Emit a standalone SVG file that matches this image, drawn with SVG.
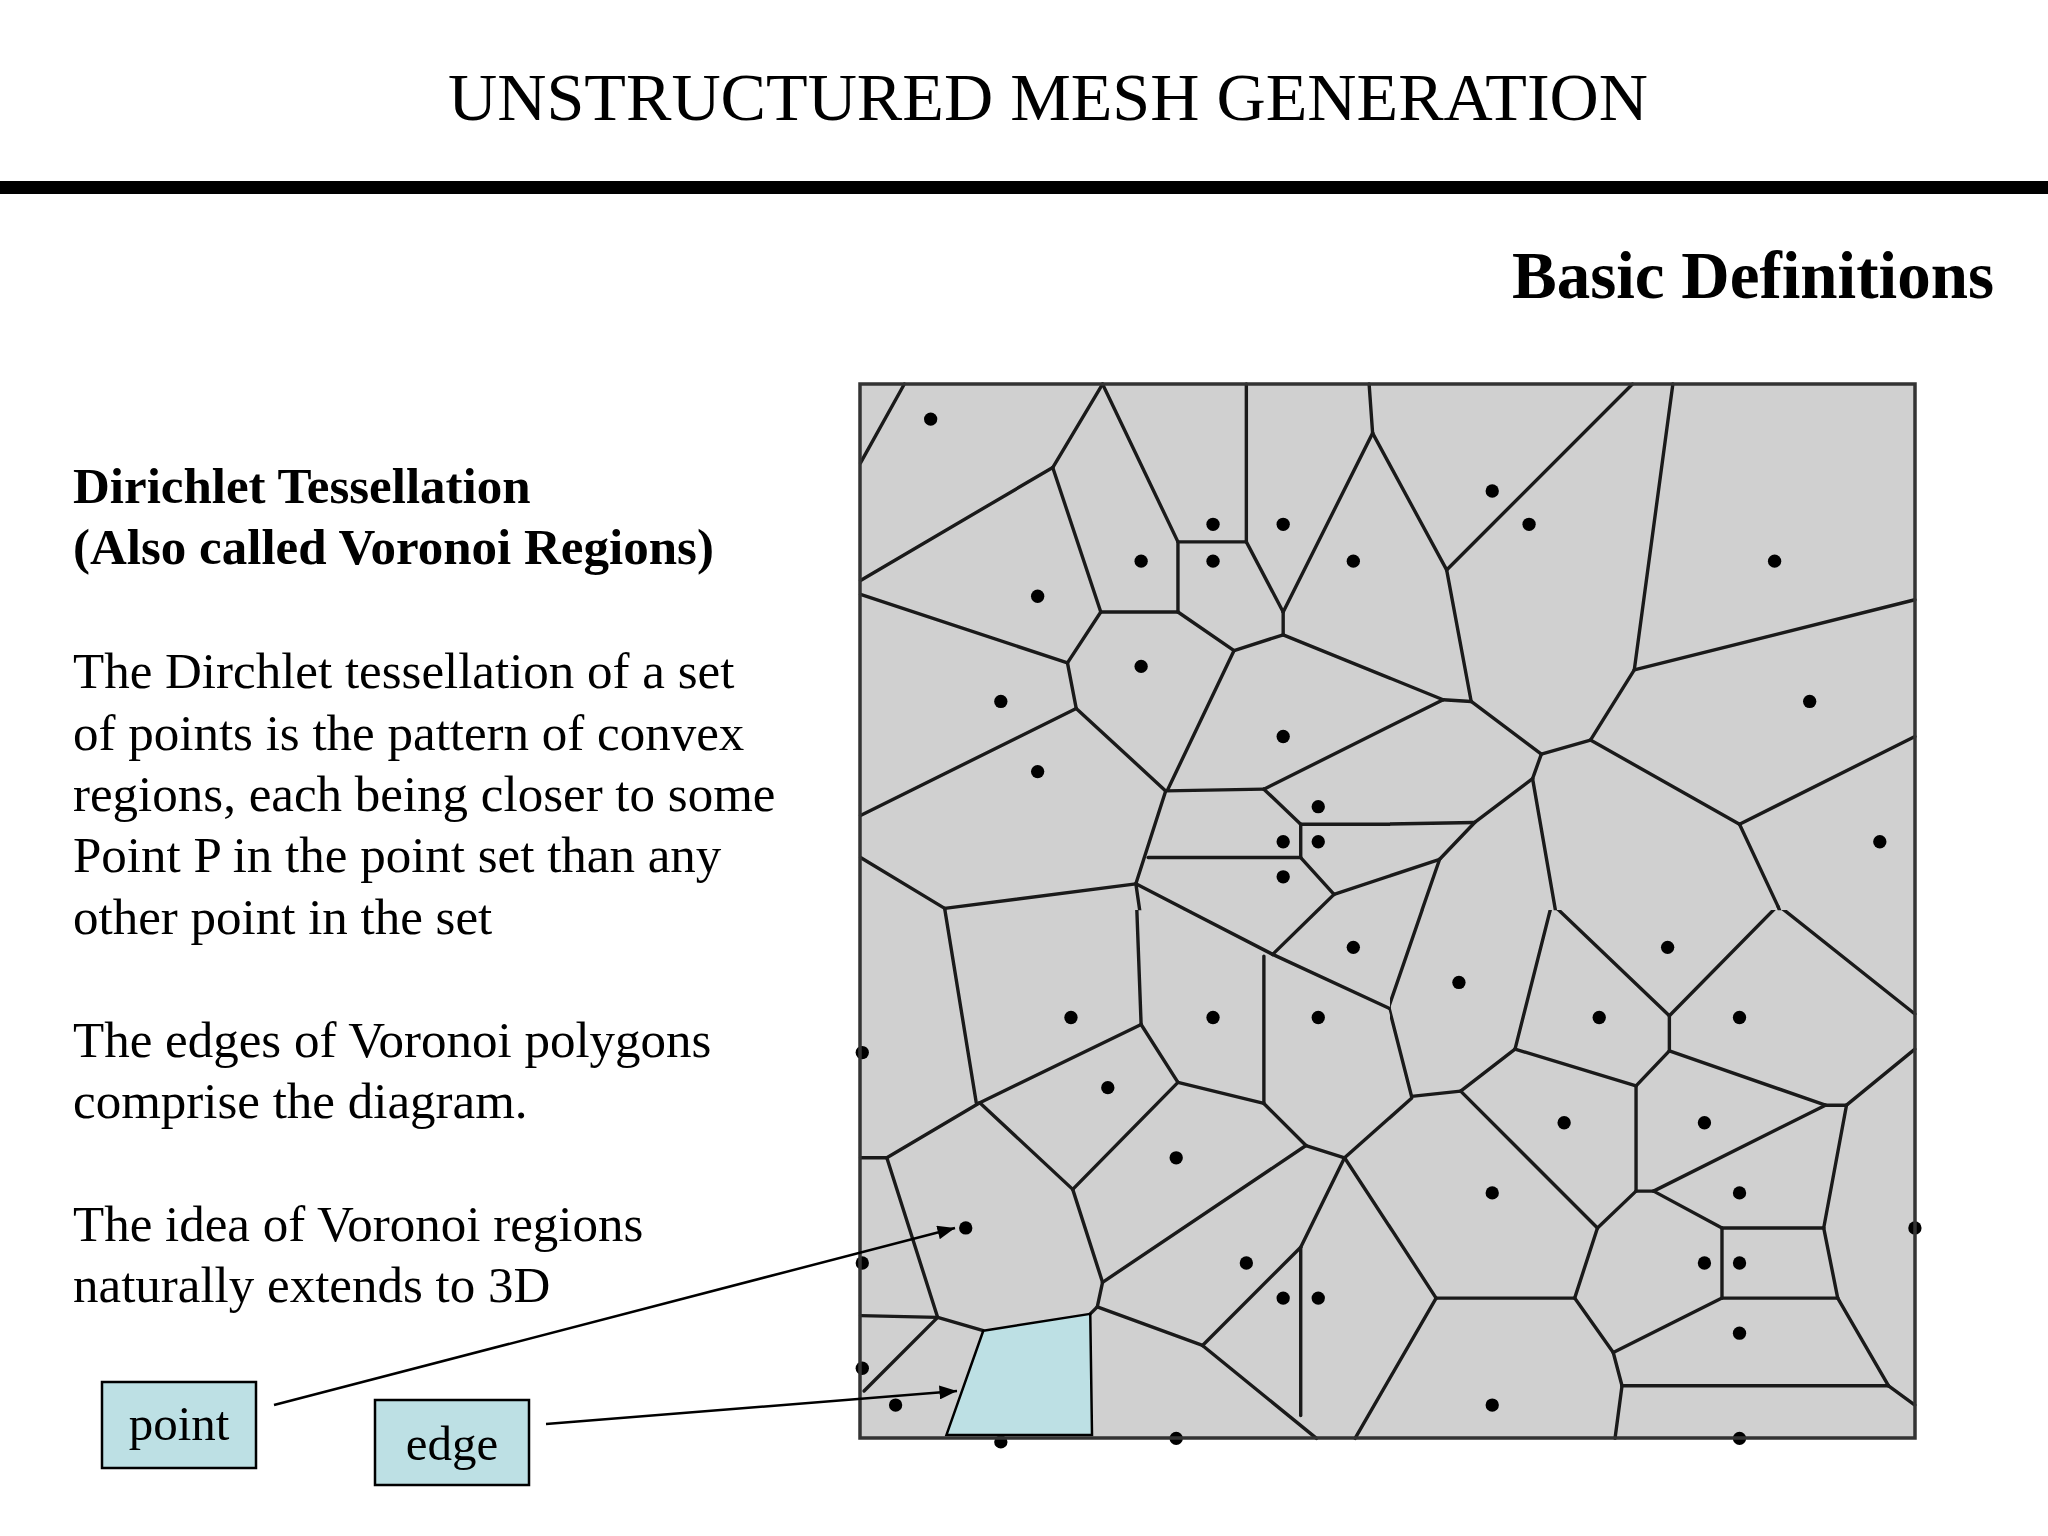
<svg xmlns="http://www.w3.org/2000/svg" width="2048" height="1536" viewBox="0 0 2048 1536">
<style>
.t{font-family:"Liberation Serif","Times New Roman",serif;fill:#000}
.e line{stroke:#1a1a1a;stroke-width:3.4;vector-effect:non-scaling-stroke;stroke-linecap:round}
.d circle{fill:#000;r:19px}
</style>
<defs>
<marker id="a2" viewBox="0 0 10 8" refX="10" refY="4" markerWidth="18" markerHeight="14" orient="auto" markerUnits="userSpaceOnUse"><path d="M0,0 L10,4 L0,8 Z" fill="#000"/></marker>
<clipPath id="c1" clipPathUnits="userSpaceOnUse"><rect x="-100" y="-100" width="1640" height="1640"/></clipPath>
<clipPath id="c2" clipPathUnits="userSpaceOnUse"><rect x="28.5" y="-100" width="1700" height="1640"/></clipPath>
<clipPath id="c3" clipPathUnits="userSpaceOnUse"><rect x="-100" y="28.5" width="1640" height="1700"/></clipPath>
<clipPath id="c4" clipPathUnits="userSpaceOnUse"><rect x="28.5" y="28.5" width="1700" height="1700"/></clipPath>
</defs>
<rect width="2048" height="1536" fill="#fff"/>
<text class="t" x="1048" y="120" font-size="68" text-anchor="middle" textLength="1200" lengthAdjust="spacingAndGlyphs">UNSTRUCTURED MESH GENERATION</text>
<rect x="0" y="181" width="2048" height="13" fill="#000"/>
<text class="t" x="1994" y="298" font-size="67" font-weight="bold" text-anchor="end">Basic Definitions</text>
<g class="t" font-size="51">
<text x="73" y="503" font-weight="bold">Dirichlet Tessellation</text>
<text x="73" y="564" font-weight="bold">(Also called Voronoi  Regions)</text>
<text x="73" y="688">The Dirchlet tessellation of a set</text>
<text x="73" y="750">of points is the pattern of convex</text>
<text x="73" y="811">regions, each being closer to some</text>
<text x="73" y="872">Point P in the point set than any</text>
<text x="73" y="934">other point in the set</text>
<text x="73" y="1057">The edges of Voronoi polygons</text>
<text x="73" y="1118">comprise the diagram.</text>
<text x="73" y="1241">The idea of Voronoi regions</text>
<text x="73" y="1302">naturally extends to 3D</text>
</g>
<rect x="860" y="384" width="1055" height="1054" fill="#d0d0d0"/>
<g id="q1" transform="translate(850,370) scale(0.35075)" clip-path="url(#c1)">
<g class="e">
<line x1="155" y1="40" x2="30" y2="265"/><line x1="720" y1="40" x2="578" y2="278"/><line x1="578" y1="278" x2="30" y2="600"/><line x1="578" y1="278" x2="715" y2="690"/><line x1="720" y1="40" x2="935" y2="490"/><line x1="1130" y1="40" x2="1130" y2="490"/><line x1="935" y1="490" x2="1130" y2="490"/><line x1="935" y1="490" x2="935" y2="690"/><line x1="715" y1="690" x2="935" y2="690"/><line x1="1130" y1="490" x2="1235" y2="690"/><line x1="1235" y1="690" x2="1490" y2="180"/><line x1="1490" y1="180" x2="1480" y2="40"/><line x1="1490" y1="180" x2="1701" y2="570"/><line x1="1235" y1="690" x2="1235" y2="755"/><line x1="1235" y1="755" x2="1095" y2="800"/><line x1="935" y1="690" x2="1095" y2="800"/><line x1="715" y1="690" x2="620" y2="835"/><line x1="620" y1="835" x2="30" y2="640"/><line x1="620" y1="835" x2="645" y2="965"/><line x1="645" y1="965" x2="30" y2="1270"/><line x1="645" y1="965" x2="900" y2="1200"/><line x1="1095" y1="800" x2="905" y2="1198"/><line x1="1235" y1="755" x2="1691" y2="940"/><line x1="900" y1="1200" x2="1180" y2="1195"/><line x1="1180" y1="1195" x2="1691" y2="940"/><line x1="1180" y1="1195" x2="1285" y2="1295"/><line x1="1285" y1="1295" x2="1568" y2="1295"/><line x1="1285" y1="1295" x2="1285" y2="1390"/><line x1="850" y1="1390" x2="1285" y2="1390"/><line x1="1285" y1="1390" x2="1380" y2="1495"/><line x1="1380" y1="1495" x2="1682" y2="1395"/><line x1="1380" y1="1495" x2="1205" y2="1666"/><line x1="900" y1="1200" x2="815" y2="1465"/><line x1="815" y1="1465" x2="270" y2="1535"/><line x1="270" y1="1535" x2="30" y2="1390"/><line x1="815" y1="1465" x2="830" y2="1568"/><line x1="815" y1="1465" x2="1205" y2="1666"/><line x1="270" y1="1535" x2="276" y2="1568"/>
</g>
<g class="d"><circle cx="230" cy="140"/><circle cx="1035" cy="440"/><circle cx="1235" cy="440"/><circle cx="830" cy="545"/><circle cx="1035" cy="545"/><circle cx="1435" cy="545"/><circle cx="535" cy="645"/><circle cx="830" cy="845"/><circle cx="430" cy="945"/><circle cx="1235" cy="1045"/><circle cx="535" cy="1145"/><circle cx="1335" cy="1245"/><circle cx="1235" cy="1345"/><circle cx="1335" cy="1345"/><circle cx="1235" cy="1445"/></g>
</g>
<g id="q2" transform="translate(1380,370) scale(0.35075)" clip-path="url(#c2)">
<g class="e">
<line x1="720" y1="40" x2="190" y2="570"/><line x1="-21" y1="180" x2="190" y2="570"/><line x1="190" y1="570" x2="260" y2="945"/><line x1="-276" y1="755" x2="180" y2="940"/><line x1="180" y1="940" x2="260" y2="945"/><line x1="-332" y1="1195" x2="180" y2="940"/><line x1="260" y1="945" x2="460" y2="1095"/><line x1="460" y1="1095" x2="600" y2="1055"/><line x1="835" y1="40" x2="725" y2="855"/><line x1="725" y1="855" x2="600" y2="1055"/><line x1="725" y1="855" x2="1525" y2="655"/><line x1="600" y1="1055" x2="1025" y2="1295"/><line x1="1025" y1="1295" x2="1525" y2="1045"/><line x1="1025" y1="1295" x2="1135" y2="1530"/><line x1="1135" y1="1530" x2="1150" y2="1568"/><line x1="460" y1="1095" x2="435" y2="1165"/><line x1="435" y1="1165" x2="505" y2="1568"/><line x1="435" y1="1165" x2="270" y2="1290"/><line x1="0" y1="1295" x2="270" y2="1290"/><line x1="270" y1="1290" x2="170" y2="1395"/><line x1="-131" y1="1495" x2="170" y2="1395"/><line x1="170" y1="1395" x2="110" y2="1568"/>
</g>
<g class="d"><circle cx="320" cy="345"/><circle cx="425" cy="440"/><circle cx="1125" cy="545"/><circle cx="1225" cy="945"/><circle cx="1425" cy="1345"/></g>
</g>
<g id="q3" transform="translate(850,900) scale(0.35075)" clip-path="url(#c3)">
<g class="e">
<line x1="270" y1="25" x2="360" y2="578"/><line x1="815" y1="-46" x2="830" y2="355"/><line x1="815" y1="-46" x2="1205" y2="155"/><line x1="1205" y1="155" x2="1380" y2="-16"/><line x1="1205" y1="155" x2="1540" y2="310"/><line x1="1540" y1="310" x2="1568" y2="300"/><line x1="1540" y1="310" x2="1568" y2="420"/><line x1="1180" y1="160" x2="1180" y2="580"/><line x1="830" y1="355" x2="370" y2="578"/><line x1="830" y1="355" x2="935" y2="520"/><line x1="935" y1="520" x2="1180" y2="580"/><line x1="935" y1="520" x2="635" y2="825"/><line x1="370" y1="578" x2="635" y2="825"/><line x1="370" y1="578" x2="105" y2="735"/><line x1="30" y1="735" x2="105" y2="735"/><line x1="105" y1="735" x2="250" y2="1190"/><line x1="30" y1="1185" x2="250" y2="1190"/><line x1="250" y1="1190" x2="380" y2="1228"/><line x1="250" y1="1190" x2="40" y2="1400"/><line x1="635" y1="825" x2="720" y2="1090"/><line x1="720" y1="1090" x2="705" y2="1160"/><line x1="705" y1="1160" x2="685" y2="1180"/><line x1="705" y1="1160" x2="1005" y2="1270"/><line x1="1005" y1="1270" x2="1330" y2="1535"/><line x1="720" y1="1090" x2="1300" y2="700"/><line x1="1180" y1="580" x2="1300" y2="700"/><line x1="1300" y1="700" x2="1410" y2="735"/><line x1="1410" y1="735" x2="1601" y2="565"/><line x1="1410" y1="735" x2="1285" y2="990"/><line x1="1285" y1="990" x2="1005" y2="1270"/><line x1="1285" y1="990" x2="1285" y2="1470"/><line x1="1410" y1="735" x2="1671" y2="1135"/><line x1="1671" y1="1135" x2="1440" y2="1535"/>
</g>
<polygon points="380,1228 685,1180 690,1525 275,1525" fill="#bde0e4" stroke="#000" stroke-width="2.5" vector-effect="non-scaling-stroke"/>
<g class="d"><circle cx="35" cy="435"/><circle cx="630" cy="335"/><circle cx="1035" cy="335"/><circle cx="1335" cy="335"/><circle cx="735" cy="535"/><circle cx="1435" cy="135"/><circle cx="930" cy="735"/><circle cx="330" cy="935"/><circle cx="35" cy="1035"/><circle cx="1130" cy="1035"/><circle cx="1235" cy="1135"/><circle cx="1335" cy="1135"/><circle cx="35" cy="1335"/><circle cx="130" cy="1440"/><circle cx="430" cy="1545"/><circle cx="930" cy="1535"/></g>
</g>
<g id="q4" transform="translate(1380,900) scale(0.35075)" clip-path="url(#c4)">
<g class="e">
<line x1="130" y1="0" x2="25" y2="305"/><line x1="0" y1="300" x2="25" y2="305"/><line x1="25" y1="305" x2="90" y2="560"/><line x1="-100" y1="735" x2="90" y2="565"/><line x1="90" y1="560" x2="230" y2="545"/><line x1="230" y1="545" x2="385" y2="425"/><line x1="385" y1="425" x2="490" y2="10"/><line x1="490" y1="10" x2="825" y2="330"/><line x1="825" y1="330" x2="1135" y2="15"/><line x1="1135" y1="15" x2="1525" y2="325"/><line x1="1135" y1="15" x2="1125" y2="0"/><line x1="490" y1="10" x2="488" y2="0"/><line x1="825" y1="330" x2="825" y2="430"/><line x1="385" y1="425" x2="730" y2="530"/><line x1="825" y1="430" x2="730" y2="530"/><line x1="825" y1="430" x2="1270" y2="585"/><line x1="1270" y1="585" x2="1330" y2="585"/><line x1="1330" y1="585" x2="1525" y2="425"/><line x1="1330" y1="585" x2="1265" y2="935"/><line x1="1270" y1="585" x2="780" y2="830"/><line x1="730" y1="530" x2="730" y2="830"/><line x1="730" y1="830" x2="780" y2="830"/><line x1="730" y1="830" x2="620" y2="935"/><line x1="230" y1="545" x2="620" y2="935"/><line x1="780" y1="830" x2="975" y2="935"/><line x1="975" y1="935" x2="1265" y2="935"/><line x1="975" y1="935" x2="975" y2="1135"/><line x1="160" y1="1135" x2="555" y2="1135"/><line x1="975" y1="1135" x2="1305" y2="1135"/><line x1="1265" y1="935" x2="1305" y2="1135"/><line x1="620" y1="935" x2="555" y2="1135"/><line x1="555" y1="1135" x2="665" y2="1290"/><line x1="665" y1="1290" x2="975" y2="1135"/><line x1="665" y1="1290" x2="690" y2="1385"/><line x1="690" y1="1385" x2="670" y2="1535"/><line x1="690" y1="1385" x2="1450" y2="1385"/><line x1="1305" y1="1135" x2="1450" y2="1385"/><line x1="1450" y1="1385" x2="1525" y2="1440"/><line x1="-100" y1="735" x2="160" y2="1135"/><line x1="160" y1="1135" x2="-71" y2="1535"/>
</g>
<g class="d"><circle cx="820" cy="135"/><circle cx="225" cy="235"/><circle cx="625" cy="335"/><circle cx="1025" cy="335"/><circle cx="525" cy="635"/><circle cx="925" cy="635"/><circle cx="320" cy="835"/><circle cx="1025" cy="835"/><circle cx="1525" cy="935"/><circle cx="925" cy="1035"/><circle cx="1025" cy="1035"/><circle cx="1025" cy="1235"/><circle cx="320" cy="1440"/><circle cx="1025" cy="1535"/></g>
</g>
<rect x="860" y="384" width="1055" height="1054" fill="none" stroke="#333" stroke-width="3.5"/>
<g id="connectors" stroke="#000" stroke-width="2.5" fill="none">
<line x1="274" y1="1405" x2="955" y2="1228" marker-end="url(#a2)"/>
<line x1="546" y1="1424" x2="957" y2="1391" marker-end="url(#a2)"/>
</g>
<g id="point"><rect x="102" y="1382" width="154" height="86" fill="#bde0e4" stroke="#000" stroke-width="2.5"/><text class="t" x="179" y="1440" font-size="49" text-anchor="middle">point</text></g>
<g id="edge"><rect x="375" y="1400" width="154" height="85" fill="#bde0e4" stroke="#000" stroke-width="2.5"/><text class="t" x="452" y="1460" font-size="49" text-anchor="middle">edge</text></g>
</svg>
